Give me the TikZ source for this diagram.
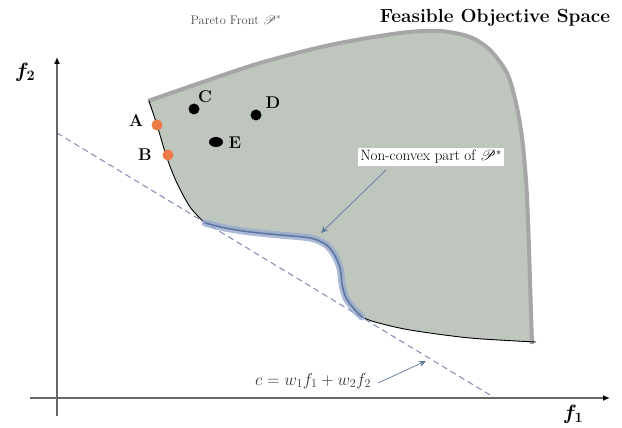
\documentclass[tikz,border=0pt]{standalone}
\usepackage{amsmath}
\usepackage{mathrsfs}
\usetikzlibrary{arrows.meta,shapes.geometric}
\definecolor{regionfill}{RGB}{190,198,190}
\definecolor{edgegray}{RGB}{166,166,166}
\definecolor{ptorange}{RGB}{238,122,72}
\definecolor{blueglow}{RGB}{150,170,205}
\definecolor{bluecore}{RGB}{95,118,160}
\definecolor{dashblue}{RGB}{125,140,175}
\tikzset{
  axis/.style={draw=black!60, line width=1.4pt, -{Latex[length=7pt,width=6pt,black]}},
  pt/.style={circle, inner sep=0pt, minimum size=11pt},
  ptlabel/.style={font=\fontsize{17}{18}\selectfont\bfseries, inner sep=1pt},
  callout/.style={draw=bluecore, line width=0.7pt, -{Stealth[length=7pt,width=6pt]}}
}
\begin{document}
\begin{tikzpicture}[x=1pt,y=-1pt]
\useasboundingbox (0,0) rectangle (622,428);
% region fill
\fill[regionfill] plot[smooth, tension=0.5] coordinates {
 (148,101) (200,83) (260,63) (330,45) (400,33) (440,31) (470,37) (490,50) (507,73) (516,103) (522,137) (526,180) (528,220) (530,280) (532,342)}
 -- plot[smooth, tension=0.5] coordinates {(532,342) (470,338) (410,330) (375,322) (362,317)}
 -- plot[smooth, tension=0.5] coordinates {(362,317) (354,309) (346,298) (342,284) (340,268) (334,254) (325,244) (310,238) (280,235) (250,232) (225,228) (205,223)}
 -- plot[smooth, tension=0.5] coordinates {(205,223) (190,207) (176,181) (166,155) (157,125) (148,101)} -- cycle;
% top/right boundary
\draw[edgegray, line width=4pt] plot[smooth, tension=0.5] coordinates {
 (148,101) (200,83) (260,63) (330,45) (400,33) (440,31) (470,37) (490,50) (507,73) (516,103) (522,137) (526,180) (528,220) (530,280) (532,344)};
% convex lower parts
\draw[black, line width=0.9pt] plot[smooth, tension=0.5] coordinates {(536,342) (470,338) (410,330) (375,322) (362,317)};
\draw[black, line width=0.9pt] plot[smooth, tension=0.5] coordinates {(205,223) (190,207) (176,181) (166,155) (157,125) (149,101)};
% dashed supporting line
\coordinate (dl1) at (57,133);
\coordinate (dl2) at (495,398);
\draw[dashblue, line width=1pt, dash pattern=on 6pt off 4pt] (dl1) -- (dl2);
% non-convex part
\draw[blueglow, line width=7pt, line cap=round, opacity=0.8] plot[smooth, tension=0.5] coordinates {(205,223) (225,228) (250,232) (280,235) (310,238) (325,244) (334,254) (340,268) (342,284) (346,298) (354,309) (362,317)};
\draw[bluecore, line width=1.6pt, line cap=round] plot[smooth, tension=0.5] coordinates {(205,223) (225,228) (250,232) (280,235) (310,238) (325,244) (334,254) (340,268) (342,284) (346,298) (354,309) (362,317)};
% axes
\coordinate (o1) at (30,398);
\coordinate (x1) at (610,398);
\coordinate (o2) at (57,416);
\coordinate (y2) at (57,57);
\draw[axis] (o1) -- (x1);
\draw[axis] (o2) -- (y2);
\node (f1) at (573,414) {\fontsize{21}{22}\selectfont$\boldsymbol{f_1}$};
\node (f2) at (25,72) {\fontsize{21}{22}\selectfont$\boldsymbol{f_2}$};
% titles
\node[text=black!70] (pf) at (236,20) {\fontsize{12.5}{14}\selectfont Pareto Front $\mathscr{P}^*$};
\node (fos) at (495,18) {\fontsize{19}{21}\selectfont\bfseries Feasible Objective Space};
% points
\node[pt, fill=ptorange] (A) at (157,125) {};
\node[pt, fill=ptorange] (B) at (168,155) {};
\node[pt, fill=black] (C) at (194,109) {};
\node[pt, fill=black] (D) at (256,115) {};
\node[ellipse, inner sep=0pt, fill=black, minimum width=14pt, minimum height=10pt] (E) at (216,142) {};
\node[ptlabel] (Al) at (136,121) {A};
\node[ptlabel] (Bl) at (145,155) {B};
\node[ptlabel] (Cl) at (205,97) {C};
\node[ptlabel] (Dl) at (273,103) {D};
\node[ptlabel] (El) at (235,143) {E};
% callouts
\node[fill=white, inner sep=2pt] (nc) at (431,157) {\fontsize{15}{16}\selectfont Non-convex part of $\mathscr{P}^*$};
\coordinate (ncstart) at (386,170);
\coordinate (ncend) at (321,233);
\draw[callout] (ncstart) -- (ncend);
\node[text=black!80] (eq) at (313,381) {\fontsize{17}{18}\selectfont$c=w_1f_1+w_2f_2$};
\coordinate (eqstart) at (378,383);
\coordinate (eqend) at (426,361);
\draw[callout] (eqstart) -- (eqend);
\end{tikzpicture}
\end{document}
